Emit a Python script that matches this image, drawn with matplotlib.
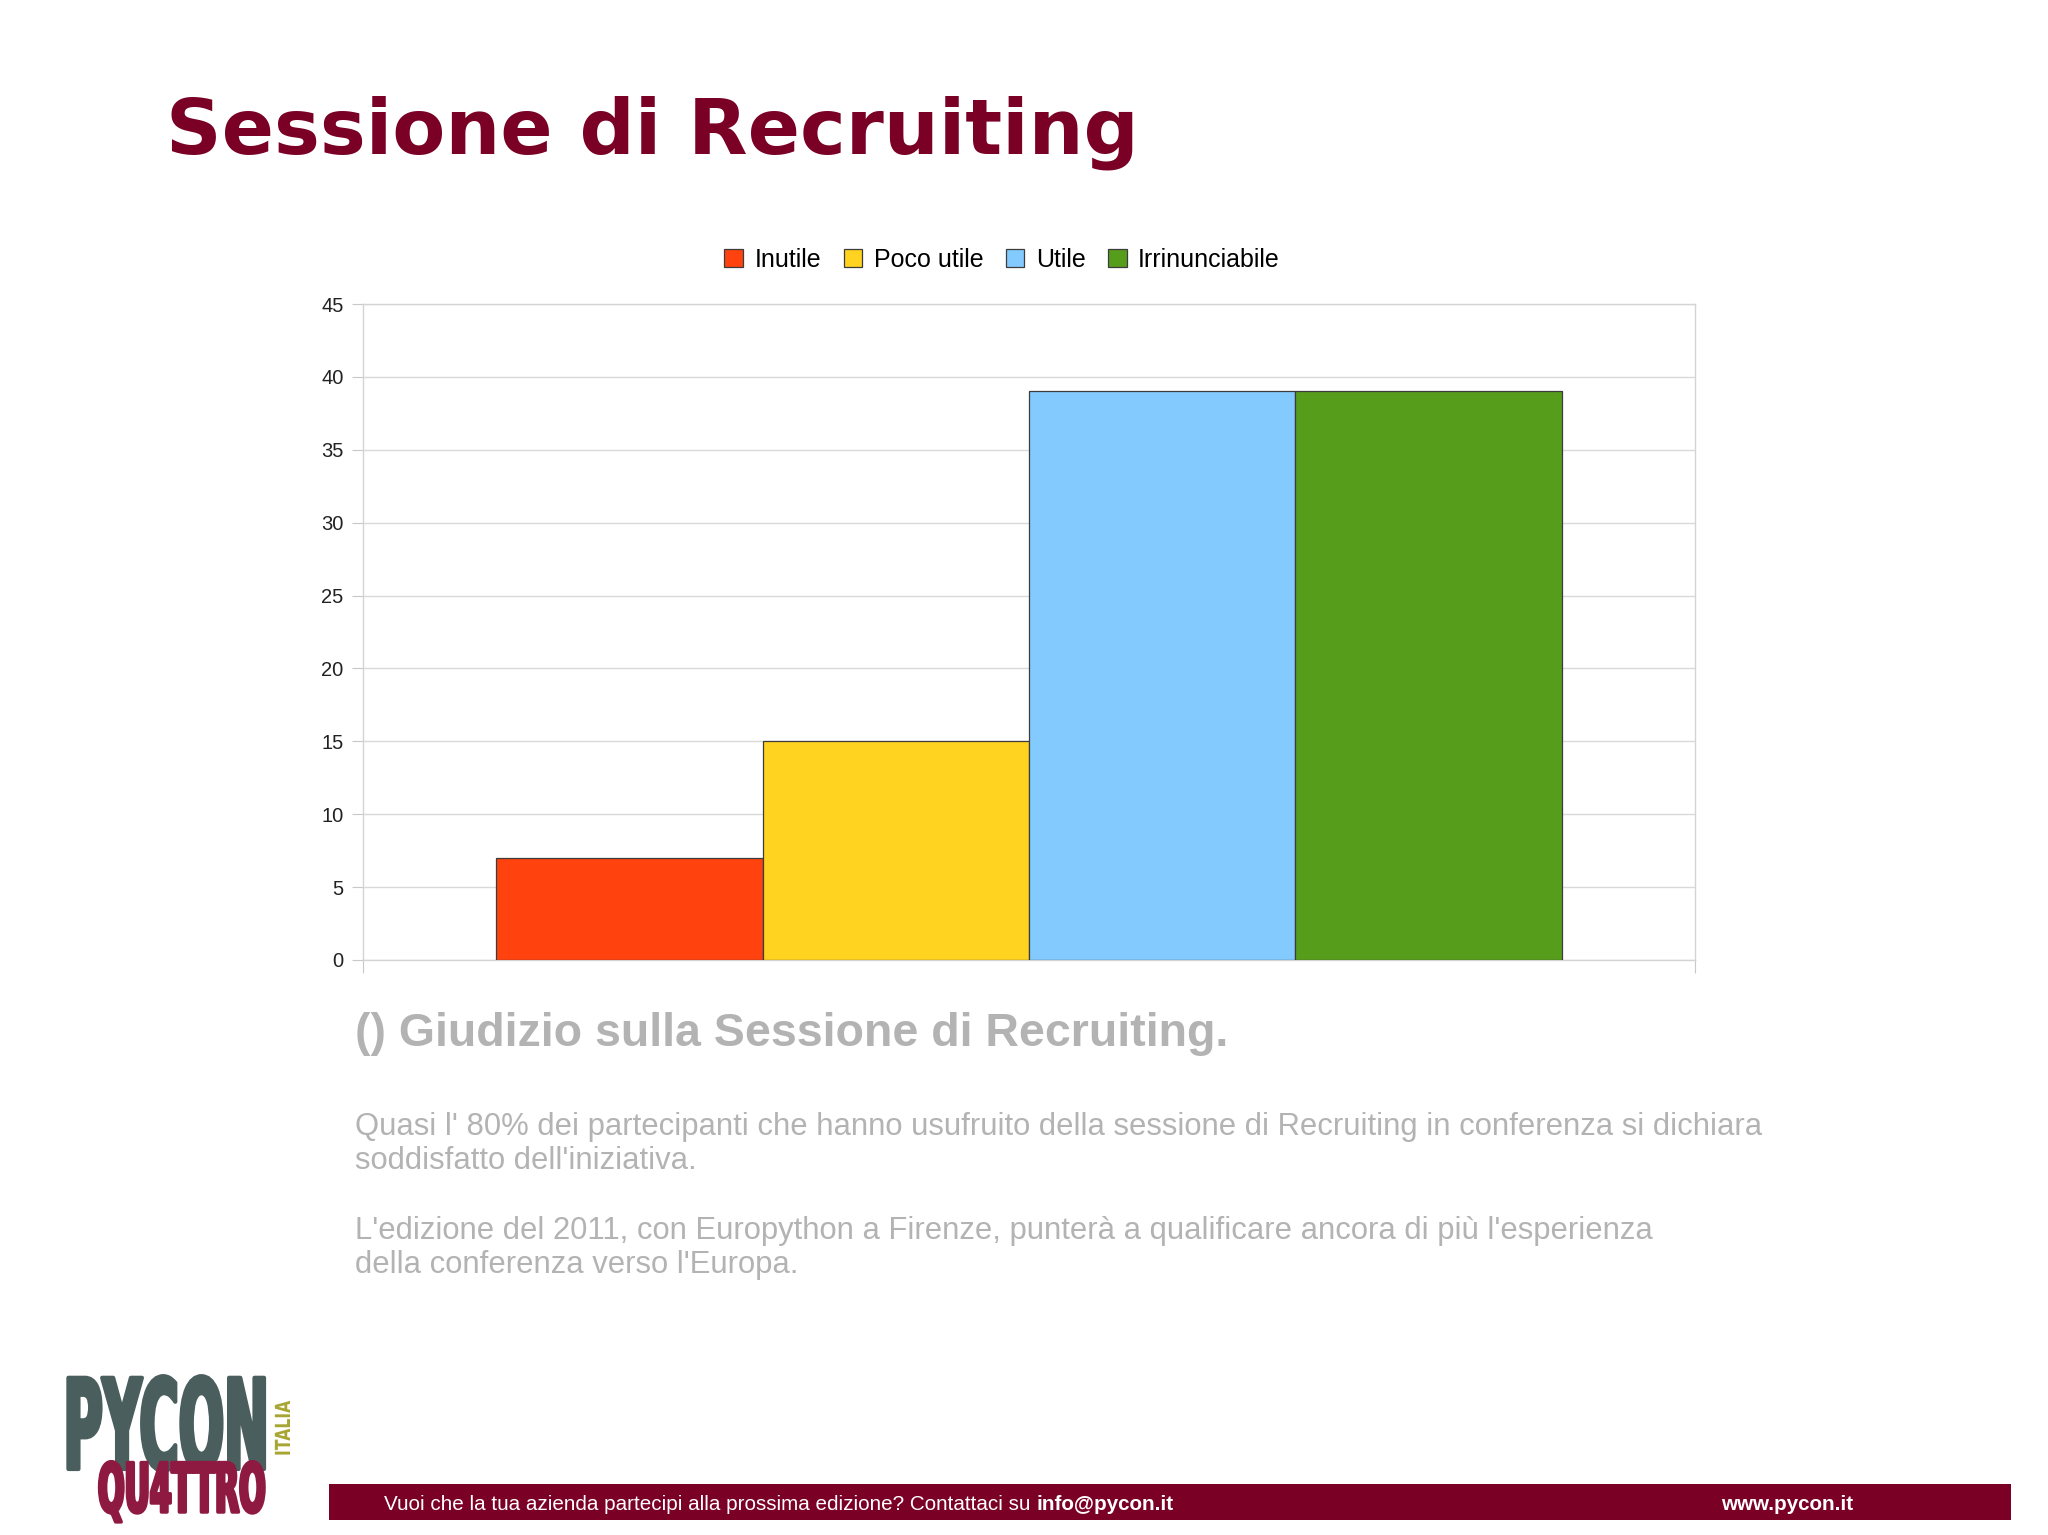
import matplotlib
matplotlib.use("Agg")
import matplotlib.pyplot as plt
from matplotlib.patheffects import AbstractPathEffect
from matplotlib.transforms import Affine2D

# survey answers
categories = ["Inutile", "Poco utile", "Utile", "Irrinunciabile"]
values = [7, 15, 39, 39]
colors = ["#ff420e", "#ffd320", "#83caff", "#579d1c"]
y_ticks = [0, 5, 10, 15, 20, 25, 30, 35, 40, 45]

title = "Sessione di Recruiting"
subtitle = "() Giudizio sulla Sessione di Recruiting."
body_lines = [
    "Quasi l' 80% dei partecipanti che hanno usufruito della sessione di Recruiting in conferenza si dichiara",
    "soddisfatto dell'iniziativa.",
    "L'edizione del 2011, con Europython a Firenze, punterà a qualificare ancora di più l'esperienza",
    "della conferenza verso l'Europa.",
]
body_baselines = [1135, 1169, 1239, 1273]
footer_left = "Vuoi che la tua azienda partecipi alla prossima edizione? Contattaci su "
footer_mail = "info@pycon.it"
footer_url = "www.pycon.it"

W, H = 2048, 1535
DARK_RED = "#7a0026"
GRAY_TXT = "#b3b3b3"
FOOT_FONT = ["Liberation Sans Narrow", "Liberation Sans"]


def fx(px):
    return px / W


def fy(py):
    return 1 - py / H


class Stretch(AbstractPathEffect):
    """stretch glyphs in their own coordinates (baseline stays put), with extra weight"""
    def __init__(self, sy, lw=0.0):
        super().__init__()
        self.sy = sy
        self.lw = lw

    def draw_path(self, renderer, gc, tpath, affine, rgbFace=None):
        gc0 = renderer.new_gc()
        gc0.copy_properties(gc)
        if self.lw > 0 and rgbFace is not None:
            gc0.set_linewidth(self.lw)
            gc0.set_foreground(rgbFace)
        renderer.draw_path(gc0, tpath, Affine2D().scale(1, self.sy) + affine, rgbFace)
        gc0.restore()


fig = plt.figure(figsize=(W / 100, H / 100), dpi=100)
fig.patch.set_facecolor("white")

# title
fig.text(fx(166), fy(153), title, fontsize=55.5, fontweight="bold",
         family="DejaVu Sans", color=DARK_RED, ha="left", va="baseline")

# chart
ax = fig.add_axes([fx(363), fy(960), fx(1695 - 363), (960 - 304) / H])
x_left = [1 + 2 * i for i in range(len(values))]
bars = ax.bar(x_left, values, width=2, align="edge", color=colors,
              edgecolor="#3c3c3c", linewidth=0.9, zorder=3)
ax.set_xlim(0, 10)
ax.set_ylim(0, 45)
ax.set_yticks(y_ticks)
ax.set_xticks([0, 10])
ax.set_xticklabels([])
ax.yaxis.grid(True, color="#d9d9d9", linewidth=1.0, zorder=0)
ax.set_axisbelow(True)
for s in ax.spines.values():
    s.set_color("#d4d4d4")
    s.set_linewidth(1.0)
ax.tick_params(axis="y", length=8, color="#c8c8c8", labelsize=14.5,
               labelcolor="#222222", pad=6)
ax.tick_params(axis="x", length=9, color="#c8c8c8")
for lab in ax.get_yticklabels():
    lab.set_family("Liberation Sans")

fig.legend(bars, categories, loc="center", bbox_to_anchor=(fx(1002), fy(260)),
           ncol=4, frameon=False, prop={"family": "Liberation Sans", "size": 18},
           handlelength=0.75, handleheight=0.75, handletextpad=0.45,
           columnspacing=0.9)

# text block under the chart
fig.text(fx(355), fy(1046), subtitle, fontsize=33.5, fontweight="bold",
         family="Liberation Sans", color=GRAY_TXT, ha="left", va="baseline")
for line, base in zip(body_lines, body_baselines):
    fig.text(fx(355), fy(base), line, fontsize=22.3, family="Liberation Sans",
             color=GRAY_TXT, ha="left", va="baseline")

# footer bar
fig.patches.append(plt.Rectangle((fx(329), fy(1520)), fx(2011 - 329), (1520 - 1484) / H,
                                 transform=fig.transFigure, facecolor=DARK_RED,
                                 edgecolor="none", zorder=1))
foot = fig.text(fx(384), fy(1504), footer_left, fontsize=14.9, family=FOOT_FONT,
                color="white", ha="left", va="center", zorder=2)
fig.add_artist(plt.Annotation(footer_mail, xy=(1, 0.5), xycoords=foot,
                              fontsize=14.9, fontweight="bold", family=FOOT_FONT,
                              color="white", ha="left", va="center", zorder=2))
fig.text(fx(1721), fy(1504), footer_url, fontsize=14.9, fontweight="bold",
         family=FOOT_FONT, color="white", ha="left", va="center", zorder=2)

# logo: tall condensed lettering
fig.text(fx(63.5), fy(1469), "PYCON", fontsize=38.5, fontweight="bold",
         family="DejaVu Sans", color="#4b5e5e", ha="left", va="baseline",
         path_effects=[Stretch(2.34, lw=3.0)], zorder=2)
fig.text(fx(98), fy(1512), "QU4TTRO", fontsize=22.5, fontweight="bold",
         family="DejaVu Sans", color="#8e1a42", ha="left", va="baseline",
         path_effects=[Stretch(2.17, lw=2.5)], zorder=3)
fig.text(fx(293), fy(1456), "ITALIA", fontsize=11.25, fontweight="bold",
         family="DejaVu Sans", color="#a8a632", ha="right", va="bottom",
         rotation=90, path_effects=[Stretch(1.33)], zorder=2)

fig.savefig("out.png", dpi=100, facecolor="white")
